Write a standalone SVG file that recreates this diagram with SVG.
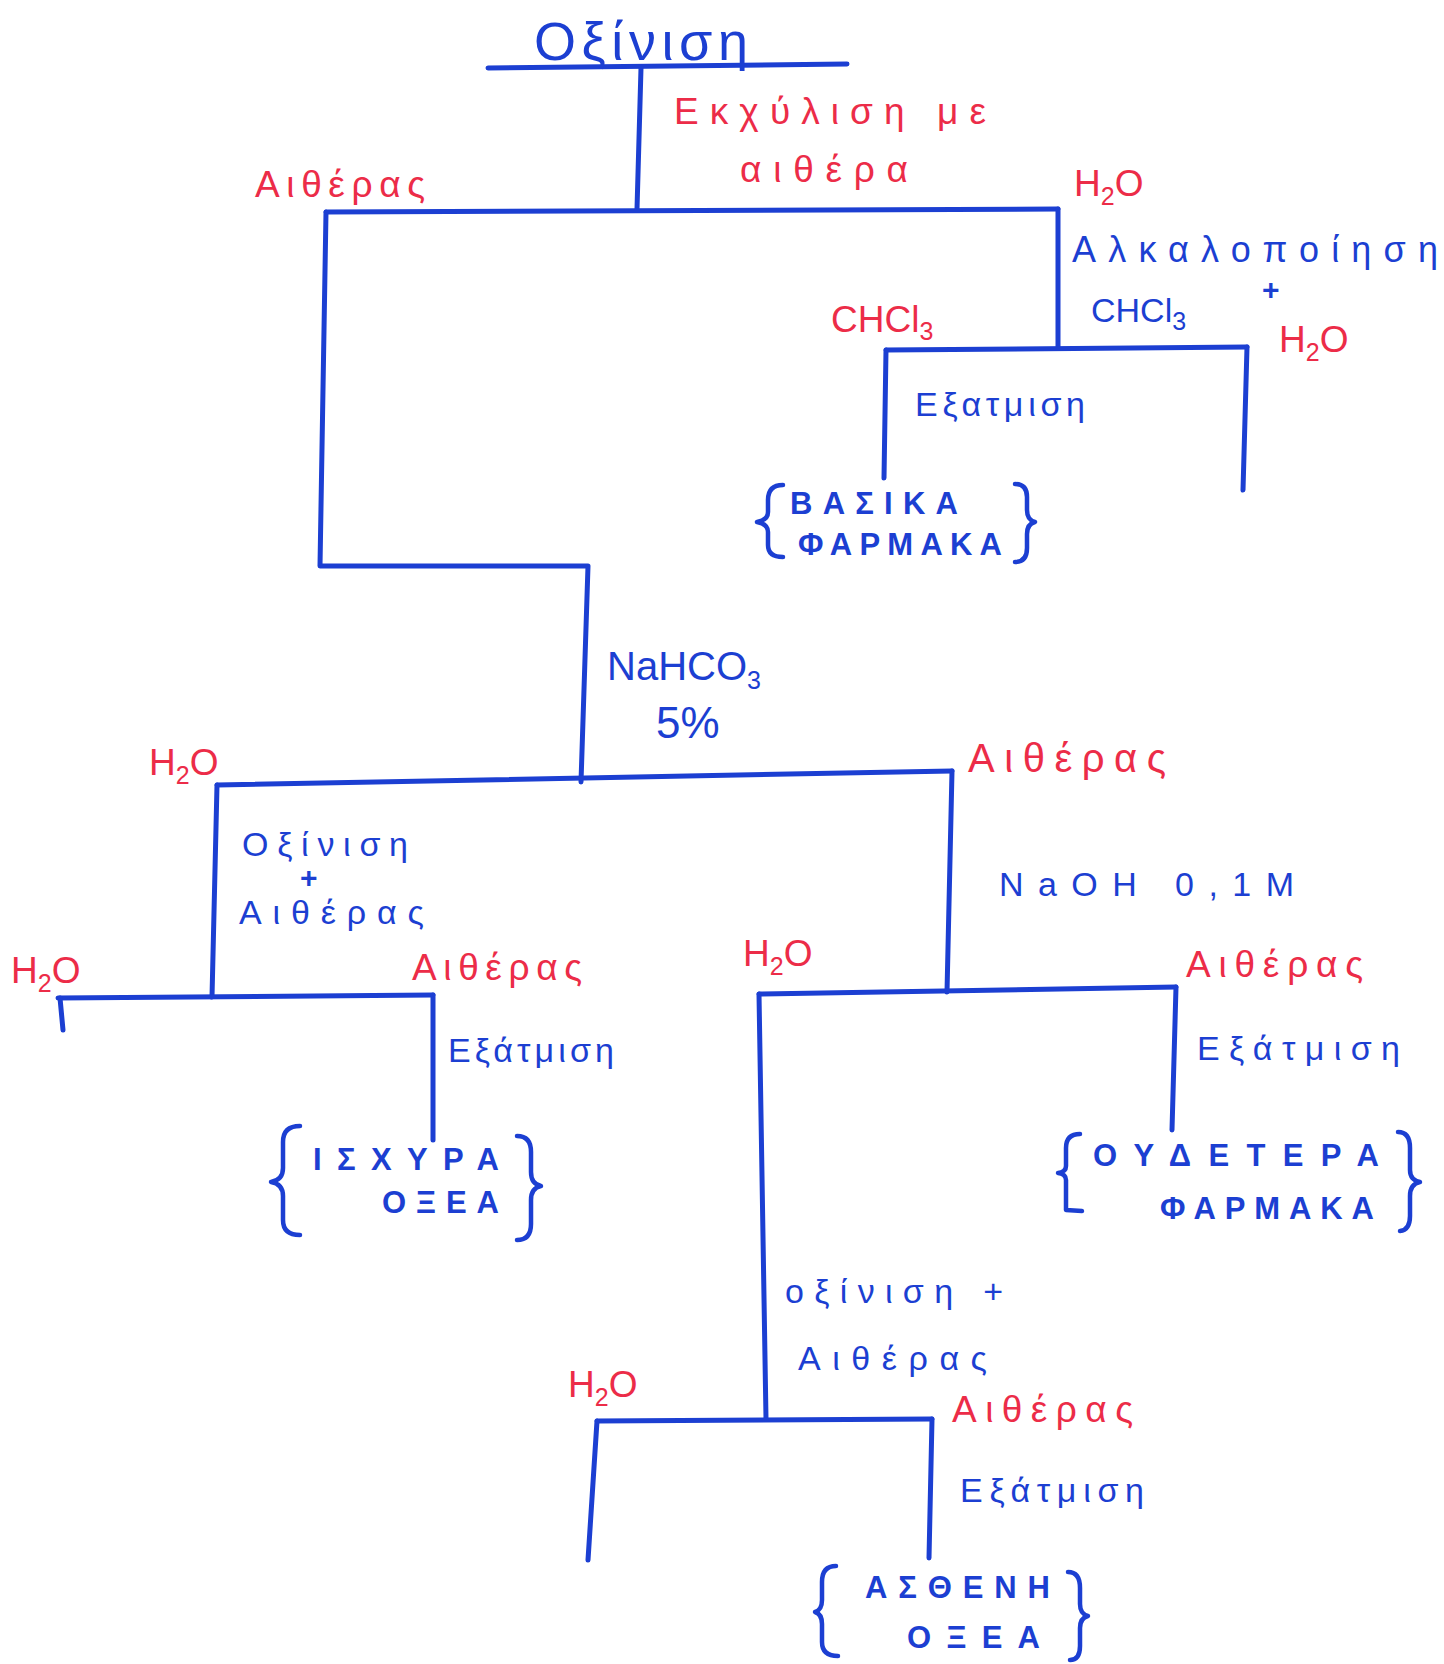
<svg xmlns="http://www.w3.org/2000/svg" width="1444" height="1664" viewBox="0 0 1444 1664">
<style>
.b{fill:#1c3fd2;font-family:"Liberation Sans","DejaVu Sans",sans-serif;font-size:34px}
.r{fill:#ec2c48;font-family:"Liberation Sans","DejaVu Sans",sans-serif;font-size:37px}
.cap{font-size:31px;font-weight:bold}
.ln{fill:none;stroke:#1c3fd2;stroke-width:5;stroke-linecap:round;stroke-linejoin:round}
.br{fill:none;stroke:#1c3fd2;stroke-width:4.5;stroke-linecap:round;stroke-linejoin:round}
.sub{font-size:25px}
.plus{font-size:30px;font-weight:bold}
</style>
<rect width="1444" height="1664" fill="#ffffff"/>

<g id="connectors">
<path class="ln" d="M488 68 L847 64"/>
<path class="ln" d="M641 68 L637 209"/>
<path class="ln" d="M326 212 L1058 209"/>
<path class="ln" d="M326 212 L320 566 L588 566 L581 782"/>
<path class="ln" d="M1058 209 L1058 347"/>
<path class="ln" d="M886 350 L1247 347"/>
<path class="ln" d="M886 350 L884 478"/>
<path class="ln" d="M1247 347 L1243 490"/>
<path class="ln" d="M217 785 L952 771"/>
<path class="ln" d="M217 785 L212 997"/>
<path class="ln" d="M952 771 L947 992"/>
<path class="ln" d="M58 998 L433 995"/>
<path class="ln" d="M60 998 L63 1030"/>
<path class="ln" d="M433 995 L433 1140"/>
<path class="ln" d="M759 994 L1176 987"/>
<path class="ln" d="M1176 987 L1172 1130"/>
<path class="ln" d="M759 994 L766 1419"/>
<path class="ln" d="M597 1421 L932 1419"/>
<path class="ln" d="M597 1421 L588 1560"/>
<path class="ln" d="M932 1419 L929 1558"/>
</g>

<g id="n-title"><text class="b" x="534" y="60" style="font-size:54px" textLength="214" lengthAdjust="spacing">Οξίνιση</text></g>
<g id="n-extract"><text class="r" x="674" y="124" textLength="312" lengthAdjust="spacing">Εκχύλιση με</text><text class="r" x="740" y="182" textLength="168" lengthAdjust="spacing">αιθέρα</text></g>
<g id="n-ether1"><text class="r" x="255" y="197" textLength="170" lengthAdjust="spacing">Αιθέρας</text></g>
<g id="n-water1"><text class="r" x="1074" y="196">H<tspan class="sub" dy="9">2</tspan><tspan dy="-9">O</tspan></text></g>
<g id="n-alkali"><text class="b" x="1072" y="262" style="font-size:36px" textLength="366" lengthAdjust="spacing">Αλκαλοποίηση</text><text class="b plus" x="1262" y="300">+</text><text class="b" x="1091" y="322">CHCl<tspan class="sub" dy="8">3</tspan></text></g>
<g id="n-chcl3"><text class="r" x="831" y="332">CHCl<tspan class="sub" dy="8">3</tspan></text></g>
<g id="n-water2"><text class="r" x="1279" y="352">H<tspan class="sub" dy="9">2</tspan><tspan dy="-9">O</tspan></text></g>
<g id="n-evap1"><text class="b" x="915" y="416" textLength="170" lengthAdjust="spacing">Εξατμιση</text></g>
<g id="n-basic">
<path class="br" d="M783 485 Q768 485 768 500 L768 512 Q768 520 757 522 Q768 524 768 532 L768 545 Q768 557 783 557"/>
<text class="b cap" x="790" y="514" textLength="168" lengthAdjust="spacing">ΒΑΣΙΚΑ</text>
<text class="b cap" x="798" y="555" textLength="204" lengthAdjust="spacing">ΦΑΡΜΑΚΑ</text>
<path class="br" d="M1015 484 Q1027 484 1027 497 L1027 510 Q1027 520 1035 522 Q1027 524 1027 534 L1027 548 Q1027 562 1015 562"/>
</g>
<g id="n-nahco3"><text class="b" x="607" y="680" style="font-size:40px">NaHCO<tspan class="sub" dy="9">3</tspan></text><text class="b" x="656" y="738" style="font-size:44px">5%</text></g>
<g id="n-water3"><text class="r" x="149" y="775">H<tspan class="sub" dy="9">2</tspan><tspan dy="-9">O</tspan></text></g>
<g id="n-ether2"><text class="r" x="968" y="772" style="font-size:40px" textLength="198" lengthAdjust="spacing">Αιθέρας</text></g>
<g id="n-acid1"><text class="b" x="242" y="856" textLength="166" lengthAdjust="spacing">Οξίνιση</text><text class="b plus" x="300" y="888">+</text><text class="b" x="239" y="924" textLength="185" lengthAdjust="spacing">Αιθέρας</text></g>
<g id="n-naoh"><text class="b" x="999" y="896" textLength="295" lengthAdjust="spacing">NaOH  0,1M</text></g>
<g id="n-water4"><text class="r" x="11" y="983">H<tspan class="sub" dy="9">2</tspan><tspan dy="-9">O</tspan></text></g>
<g id="n-ether3"><text class="r" x="412" y="980" textLength="170" lengthAdjust="spacing">Αιθέρας</text></g>
<g id="n-evap2"><text class="b" x="448" y="1062" textLength="166" lengthAdjust="spacing">Εξάτμιση</text></g>
<g id="n-strong">
<path class="br" d="M300 1126 Q283 1126 283 1142 L283 1168 Q283 1180 271 1182 Q283 1184 283 1196 L283 1220 Q283 1235 300 1235"/>
<text class="b cap" x="313" y="1170" textLength="186" lengthAdjust="spacing">ΙΣΧΥΡΑ</text>
<text class="b cap" x="382" y="1213" textLength="117" lengthAdjust="spacing">ΟΞΕΑ</text>
<path class="br" d="M517 1136 Q531 1136 531 1152 L531 1172 Q531 1184 541 1186 Q531 1188 531 1200 L531 1224 Q531 1240 517 1240"/>
</g>
<g id="n-water5"><text class="r" x="743" y="966">H<tspan class="sub" dy="9">2</tspan><tspan dy="-9">O</tspan></text></g>
<g id="n-ether4"><text class="r" x="1186" y="977" textLength="177" lengthAdjust="spacing">Αιθέρας</text></g>
<g id="n-evap3"><text class="b" x="1197" y="1060" textLength="203" lengthAdjust="spacing">Εξάτμιση</text></g>
<g id="n-neutral">
<path class="br" d="M1080 1134 Q1066 1134 1066 1148 L1066 1166 Q1066 1172 1058 1173 Q1066 1174 1066 1180 L1066 1210 L1082 1211"/>
<text class="b cap" x="1093" y="1166" textLength="286" lengthAdjust="spacing">ΟΥΔΕΤΕΡΑ</text>
<text class="b cap" x="1160" y="1219" textLength="214" lengthAdjust="spacing">ΦΑΡΜΑΚΑ</text>
<path class="br" d="M1398 1132 Q1410 1132 1410 1148 L1410 1170 Q1410 1180 1420 1182 Q1410 1184 1410 1196 L1410 1216 Q1410 1230 1400 1231"/>
</g>
<g id="n-acid2"><text class="b" x="785" y="1303" textLength="218" lengthAdjust="spacing">οξίνιση +</text><text class="b" x="798" y="1370" textLength="189" lengthAdjust="spacing">Αιθέρας</text></g>
<g id="n-water6"><text class="r" x="568" y="1397">H<tspan class="sub" dy="9">2</tspan><tspan dy="-9">O</tspan></text></g>
<g id="n-ether5"><text class="r" x="952" y="1422" textLength="181" lengthAdjust="spacing">Αιθέρας</text></g>
<g id="n-evap4"><text class="b" x="960" y="1502" textLength="184" lengthAdjust="spacing">Εξάτμιση</text></g>
<g id="n-weak">
<path class="br" d="M836 1566 Q822 1566 822 1582 L822 1600 Q822 1610 815 1612 Q822 1614 822 1624 L822 1642 Q822 1656 838 1656"/>
<text class="b cap" x="865" y="1598" textLength="185" lengthAdjust="spacing">ΑΣΘΕΝΗ</text>
<text class="b cap" x="907" y="1648" textLength="133" lengthAdjust="spacing">ΟΞΕΑ</text>
<path class="br" d="M1068 1572 Q1080 1572 1080 1588 L1080 1604 Q1080 1614 1088 1616 Q1080 1618 1080 1628 L1080 1646 Q1080 1660 1070 1660"/>
</g>
</svg>
